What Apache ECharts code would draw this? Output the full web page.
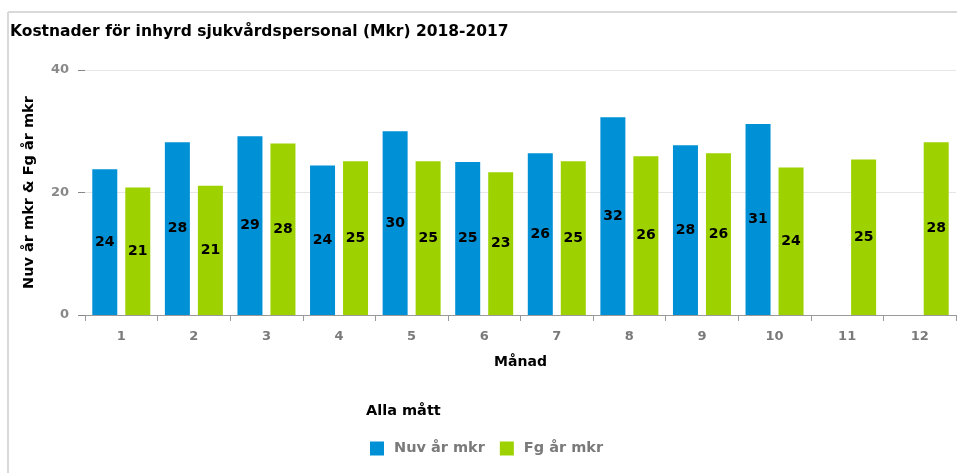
<!DOCTYPE html>
<html lang="sv">
<head>
    <meta charset="utf-8">
    <title>Kostnader för inhyrd sjukvårdspersonal</title>
    <script src="https://cdn.jsdelivr.net/npm/echarts@6/dist/echarts.min.js"></script>
    <style>
        html, body { margin: 0; padding: 0; background: #fff; }
        #chart { width: 957px; height: 473px; }
    </style>
</head>
<body>
<div id="chart"></div>
<script>
    // data
    var months = ['1', '2', '3', '4', '5', '6', '7', '8', '9', '10', '11', '12'];
    var nuvAr = [23.8, 28.2, 29.2, 24.4, 30.0, 25.0, 26.4, 32.3, 27.7, 31.2, null, null];
    var fgAr = [20.8, 21.1, 28.0, 25.1, 25.1, 23.3, 25.1, 25.9, 26.4, 24.1, 25.4, 28.2];
    var yTicks = [0, 20, 40];

    var font = 'DejaVu Sans';
    var barLabel = {
        show: true,
        position: 'inside',
        color: '#000',
        fontFamily: font,
        fontWeight: 'bold',
        fontSize: 14,
        formatter: function (p) { return Math.round(p.value); }
    };

    var myChart = echarts.init(document.getElementById('chart'));
    myChart.setOption({
        animation: false,
        title: [
            {
                text: 'Kostnader för inhyrd sjukvårdspersonal (Mkr) 2018-2017',
                left: 5, top: 19,
                textStyle: { fontFamily: font, fontWeight: 'bold', fontSize: 15.5, color: '#000' }
            },
            {
                text: 'Alla mått',
                left: 361, top: 399,
                textStyle: { fontFamily: font, fontWeight: 'bold', fontSize: 14.5, color: '#000' }
            }
        ],
        graphic: [
            { type: 'line', shape: { x1: 8, y1: 12, x2: 957, y2: 12 }, style: { stroke: '#d9d9d9', lineWidth: 2 } },
            { type: 'line', shape: { x1: 8, y1: 12, x2: 8, y2: 473 }, style: { stroke: '#d9d9d9', lineWidth: 2 } }
        ],
        legend: {
            left: 365, top: 436,
            icon: 'rect',
            itemWidth: 14, itemHeight: 14,
            itemGap: 15,
            textStyle: { fontFamily: font, fontWeight: 'bold', fontSize: 14.5, color: '#7a7a7a', padding: [0, 0, 0, 5] },
            data: ['Nuv år mkr', 'Fg år mkr']
        },
        grid: { left: 85, right: 1, top: 70, bottom: 158 },
        xAxis: {
            type: 'category',
            data: months,
            name: 'Månad',
            nameLocation: 'middle',
            nameGap: 40,
            nameTextStyle: { fontFamily: font, fontWeight: 'bold', fontSize: 14, color: '#000' },
            axisLine: { show: true, lineStyle: { color: '#999' } },
            axisTick: { show: true, length: 6, lineStyle: { color: '#999' } },
            axisLabel: { fontFamily: font, fontWeight: 'bold', fontSize: 13, color: '#7a7a7a', margin: 15 }
        },
        yAxis: {
            type: 'value',
            min: yTicks[0], max: yTicks[yTicks.length - 1], interval: 20,
            name: 'Nuv år mkr & Fg år mkr',
            nameLocation: 'middle',
            nameRotate: 90,
            nameGap: 48,
            nameTextStyle: { fontFamily: font, fontWeight: 'bold', fontSize: 14.5, color: '#000' },
            axisLine: { show: false },
            axisTick: { show: true, length: 7, lineStyle: { color: '#888', width: 1 } },
            axisLabel: { fontFamily: font, fontWeight: 'bold', fontSize: 13, color: '#888', margin: 16 },
            splitLine: { lineStyle: { color: '#e6e6e6' } }
        },
        series: [
            {
                name: 'Nuv år mkr',
                type: 'bar',
                data: nuvAr,
                barWidth: 25,
                barGap: '32%',
                itemStyle: { color: '#0090d6' },
                label: barLabel
            },
            {
                name: 'Fg år mkr',
                type: 'bar',
                data: fgAr,
                barWidth: 25,
                itemStyle: { color: '#9dd200' },
                label: barLabel
            }
        ]
    });
</script>
</body>
</html>
